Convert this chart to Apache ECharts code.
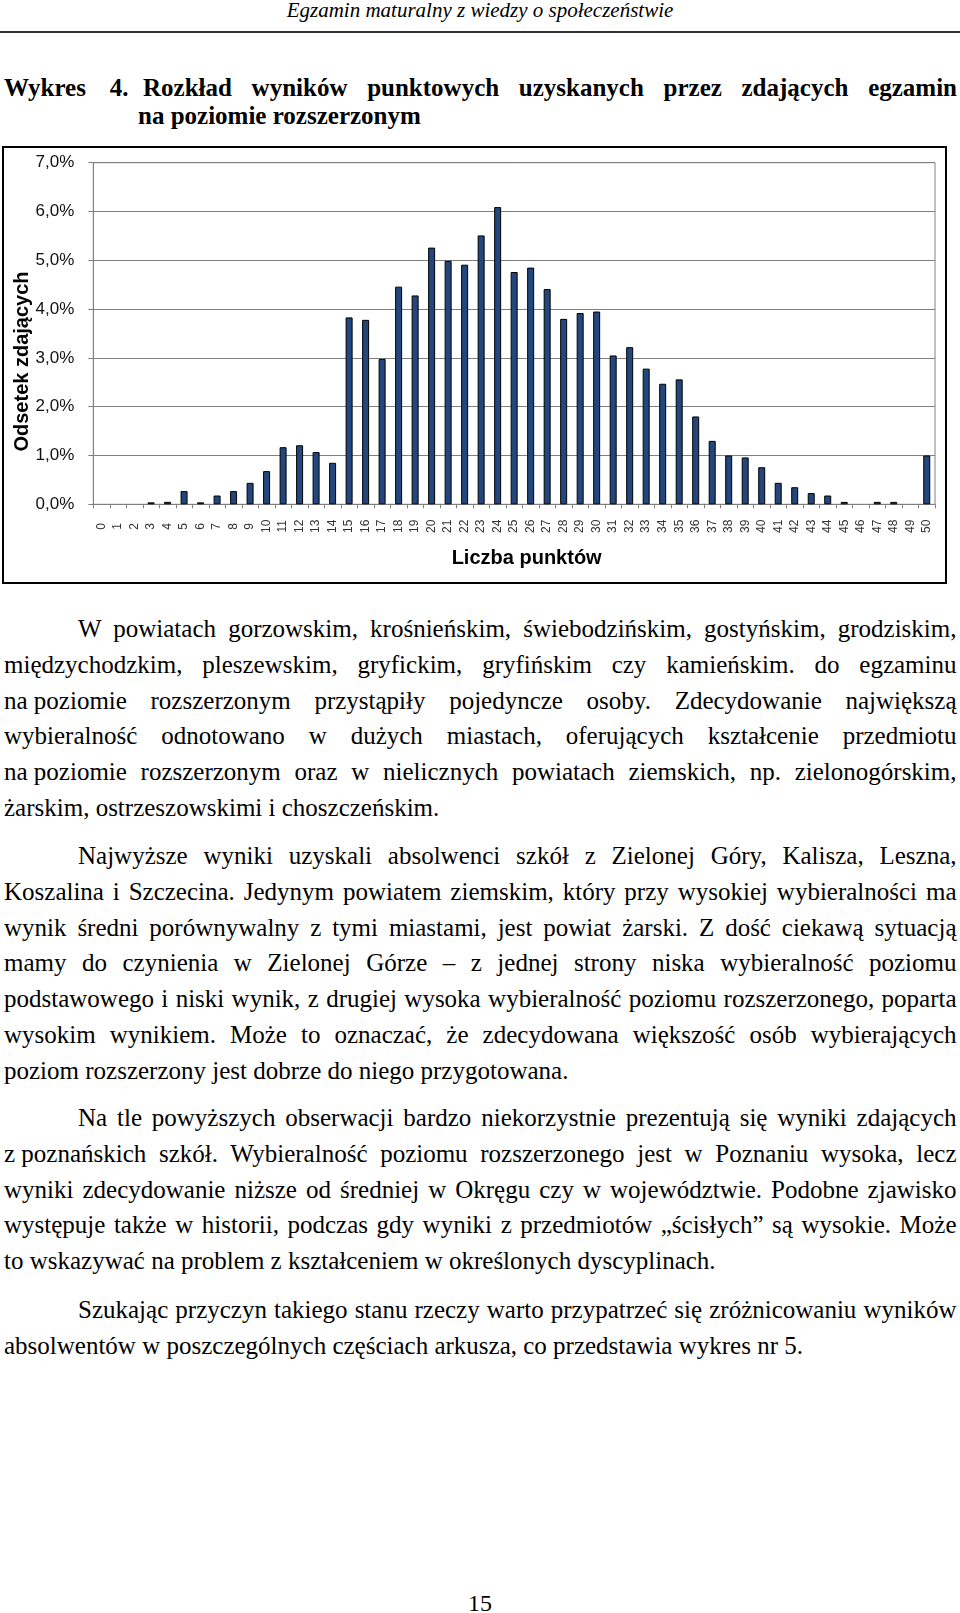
<!DOCTYPE html>
<html>
<head>
<meta charset="utf-8">
<script src="https://cdn.jsdelivr.net/npm/echarts@6/dist/echarts.min.js"></script>
<style>
  html, body { margin: 0; padding: 0; background: #fff; }
  body { width: 960px; height: 1613px; position: relative; overflow: hidden;
         font-family: "Liberation Serif", "Times New Roman", serif; color: #000; }
  .abs { position: absolute; white-space: nowrap; }
  #hdr { position: absolute; left: 0; width: 960px; top: -4px; text-align: center;
         font-style: italic; font-size: 21px; line-height: 28px; }
  #hline { position: absolute; left: 0; top: 31px; width: 960px; height: 0;
           border-top: 2px solid #333; }
  .title { font-weight: bold; font-size: 25px; line-height: 28px; }
  .body { font-size: 25px; line-height: 35.8px; }
  .nb { word-spacing: 0 !important; }
  #chartBox { position: absolute; left: 2px; top: 146px; width: 945px; height: 438px;
              box-sizing: border-box; border: 2px solid #000; }
  #chart { width: 941px; height: 434px; }
  #pg { position: absolute; left: 0; width: 960px; top: 1589px; text-align: center;
        font-size: 24px; line-height: 28px; }
</style>
</head>
<body>
<div id="hdr">Egzamin maturalny z wiedzy o społeczeństwie</div>
<div id="hline"></div>

<div class="abs title" data-l="4" data-w="124.5" style="top:74px">Wykres 4.</div>
<div class="abs title" data-l="143" data-w="814" style="top:74px">Rozkład wyników punktowych uzyskanych przez zdających egzamin</div>
<div class="abs title" style="left:138px;top:102px">na poziomie rozszerzonym</div>

<div id="chartBox"><div id="chart"></div></div>

<div id="text"></div>
<div id="pg">15</div>

<script>
// ---- chart data ----
const categories = ['0','1','2','3','4','5','6','7','8','9','10','11','12','13','14','15','16','17','18','19','20',
  '21','22','23','24','25','26','27','28','29','30','31','32','33','34','35','36','37','38','39','40',
  '41','42','43','44','45','46','47','48','49','50'];
const shares = [0, 0, 0, 0.04, 0.05, 0.27, 0.04, 0.18, 0.27, 0.44, 0.68,
  1.17, 1.21, 1.07, 0.85, 3.83, 3.78, 2.98, 4.46, 4.28, 5.26,
  4.99, 4.91, 5.51, 6.09, 4.76, 4.85, 4.41, 3.80, 3.92, 3.95,
  3.05, 3.22, 2.78, 2.47, 2.56, 1.80, 1.30, 1.00, 0.96, 0.76,
  0.44, 0.35, 0.23, 0.18, 0.05, 0, 0.05, 0.05, 0, 1.00];
const yTickLabels = ['0,0%','1,0%','2,0%','3,0%','4,0%','5,0%','6,0%','7,0%'];
const xAxisTitle = 'Liczba punktów';
const yAxisTitle = 'Odsetek zdających';

// ---- page text ----
const paragraphs = [
  { top: 611, lines: [
    'W powiatach gorzowskim, krośnieńskim, świebodzińskim, gostyńskim, grodziskim,',
    'międzychodzkim, pleszewskim, gryfickim, gryfińskim czy kamieńskim. do egzaminu',
    '<span class="nb">na poziomie</span> rozszerzonym przystąpiły pojedyncze osoby. Zdecydowanie największą',
    'wybieralność odnotowano w dużych miastach, oferujących kształcenie przedmiotu',
    '<span class="nb">na poziomie</span> rozszerzonym oraz w nielicznych powiatach ziemskich, np. zielonogórskim,',
    'żarskim, ostrzeszowskimi i choszczeńskim.'] },
  { top: 838, lines: [
    'Najwyższe wyniki uzyskali absolwenci szkół z Zielonej Góry, Kalisza, Leszna,',
    'Koszalina i Szczecina. Jedynym powiatem ziemskim, który przy wysokiej wybieralności ma',
    'wynik średni porównywalny z tymi miastami, jest powiat żarski. Z dość ciekawą sytuacją',
    'mamy do czynienia w Zielonej Górze – z jednej strony niska wybieralność poziomu',
    'podstawowego i niski wynik, z drugiej wysoka wybieralność poziomu rozszerzonego, poparta',
    'wysokim wynikiem. Może to oznaczać, że zdecydowana większość osób wybierających',
    'poziom rozszerzony jest dobrze do niego przygotowana.'] },
  { top: 1100, lines: [
    'Na tle powyższych obserwacji bardzo niekorzystnie prezentują się wyniki zdających',
    '<span class="nb">z poznańskich</span> szkół. Wybieralność poziomu rozszerzonego jest w Poznaniu wysoka, lecz',
    'wyniki zdecydowanie niższe od średniej w Okręgu czy w województwie. Podobne zjawisko',
    'występuje także w historii, podczas gdy wyniki z przedmiotów „ścisłych” są wysokie. Może',
    'to wskazywać na problem z kształceniem w określonych dyscyplinach.'] },
  { top: 1292, lines: [
    'Szukając przyczyn takiego stanu rzeczy warto przypatrzeć się zróżnicowaniu wyników',
    'absolwentów w poszczególnych częściach arkusza, co przedstawia wykres nr 5.'] }
];

const LEFT = 4, RIGHT = 956.5, INDENT = 78, LH = 35.8;
const textRoot = document.getElementById('text');
function justify(el, width) {
  const nat = el.getBoundingClientRect().width;
  let spaces = (el.textContent.match(/ /g) || []).length;
  el.querySelectorAll('.nb').forEach(s => { spaces -= (s.textContent.match(/ /g) || []).length; });
  if (spaces > 0) el.style.wordSpacing = ((width - nat) / spaces) + 'px';
}
paragraphs.forEach(p => {
  p.lines.forEach((ln, i) => {
    const d = document.createElement('div');
    d.className = 'abs body';
    const left = i === 0 ? INDENT : LEFT;
    d.style.left = left + 'px';
    d.style.top = (p.top + i * LH) + 'px';
    d.innerHTML = ln;
    textRoot.appendChild(d);
    if (i < p.lines.length - 1) justify(d, RIGHT - left);
  });
});
document.querySelectorAll('.title[data-w]').forEach(el => {
  el.style.left = el.dataset.l + 'px';
  justify(el, parseFloat(el.dataset.w));
});

// ---- chart ----
const chart = echarts.init(document.getElementById('chart'), null, { renderer: 'canvas' });
const gray = '#808080';
chart.setOption({
  animation: false,
  backgroundColor: '#fff',
  grid: { left: 89.3, right: 10, top: 14.7, bottom: 77.7, show: true, containLabel: false,
          outerBoundsMode: 'none',
          borderColor: gray, borderWidth: 1, backgroundColor: 'transparent' },
  xAxis: {
    type: 'category',
    data: categories,
    boundaryGap: true,
    axisLine: { lineStyle: { color: gray, width: 1 } },
    axisTick: { show: true, length: 4, interval: 0, lineStyle: { color: gray } },
    axisLabel: { interval: 0, rotate: 90, align: 'center', verticalAlign: 'middle', margin: 22,
                 fontFamily: 'Liberation Sans, Arial, sans-serif', fontSize: 12, color: '#333' },
    name: xAxisTitle,
    nameLocation: 'middle',
    nameGap: 44,
    nameMoveOverlap: false,
    nameTextStyle: { fontFamily: 'Liberation Sans, Arial, sans-serif', fontSize: 20, fontWeight: 'bold',
                     color: '#000', padding: [0, 0, 0, 25] }
  },
  yAxis: {
    type: 'value',
    min: 0, max: 7, interval: 1,
    axisLine: { show: true, lineStyle: { color: gray, width: 1 } },
    axisTick: { show: true, length: 5, lineStyle: { color: gray } },
    splitLine: { show: true, lineStyle: { color: gray, width: 1 } },
    axisLabel: { margin: 19, fontFamily: 'Liberation Sans, Arial, sans-serif', fontSize: 17, color: '#111',
                 formatter: (v) => yTickLabels[Math.round(v)] },
    name: yAxisTitle,
    nameLocation: 'middle',
    nameGap: 61,
    nameMoveOverlap: false,
    nameTextStyle: { fontFamily: 'Liberation Sans, Arial, sans-serif', fontSize: 20, fontWeight: 'bold',
                     color: '#000', padding: [0, 56, 0, 0] }
  },
  series: [{
    type: 'bar',
    data: shares.map(v => v > 0 ? v : { value: v, itemStyle: { borderWidth: 0 } }),
    barWidth: 7,
    itemStyle: { color: '#23477c', borderColor: '#000', borderWidth: 1 }
  }]
});
</script>
</body>
</html>
